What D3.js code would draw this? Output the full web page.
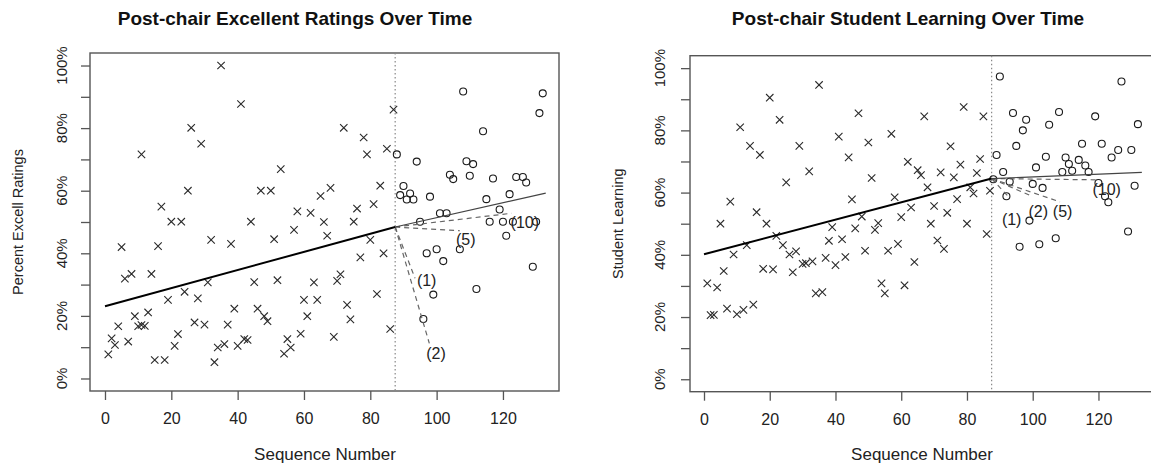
<!DOCTYPE html>
<html>
<head>
<meta charset="utf-8">
<script src="https://cdn.jsdelivr.net/npm/d3@7/dist/d3.min.js"></script>
<style>
  body { margin: 0; background: #fff; }
  svg { display: block; font-family: "Liberation Sans", Arial, Helvetica, sans-serif; }
</style>
</head>
<body>
<svg id="chart" width="1151" height="464"></svg>
<script>
// ---- data ----
// left panel: percent excellent ratings
var exSeqPre = [1,2,3,4,5,6,7,8,9,10,11,11,12,13,14,15,16,17,18,19,20,21,22,23,24,25,26,27,28,29,30,31,32,33,34,35,36,37,38,39,40,41,42,43,44,45,46,47,48,49,50,51,52,53,54,55,56,57,58,59,60,61,62,63,64,65,66,67,68,69,70,71,72,73,74,75,76,77,78,79,80,81,82,83,84,85,86,87];
var exPre = [7.7,12.8,10.7,16.7,42.0,31.9,11.8,33.4,19.9,16.7,71.6,17.1,16.8,21.1,33.4,5.9,42.3,54.9,5.9,25.1,50.1,10.4,14.2,50.1,27.7,60.0,80.1,17.9,25.6,75.0,17.2,30.7,44.3,5.2,9.9,100,11.0,17.2,43.0,22.3,10.4,87.7,12.6,12.3,50.1,30.8,22.3,60.0,19.9,18.3,60.0,44.5,31.4,66.9,7.9,12.6,9.9,47.5,53.4,14.3,25.1,19.9,52.9,30.7,25.1,58.3,50.0,45.6,60.9,13.3,31.2,33.3,80.1,23.5,18.9,50.1,54.3,38.7,77.0,71.6,44.3,55.7,27.0,61.6,40.0,73.4,15.8,85.9];
var exSeqPost = [88,89,90,91,92,93,94,95,96,97,98,99,100,101,102,103,104,105,107,108,109,110,111,112,114,115,116,117,119,120,121,122,123,124,126,127,129,130,131,132];
var exPost = [71.6,58.6,61.5,57.2,59.1,57.2,69.3,50.1,19.0,40.0,58.1,26.8,41.3,52.8,37.5,52.8,65.1,63.7,41.3,91.7,69.4,64.8,68.5,28.6,79.0,57.3,50.1,63.9,54.0,50.1,45.6,58.9,50.1,64.4,64.4,62.6,35.7,50.1,84.8,91.1];

// right panel: student learning
var slSeqPre = [1,2,3,4,5,6,7,8,9,10,11,12,13,14,15,16,17,18,19,20,21,22,23,24,25,26,27,28,29,30,31,32,33,34,35,36,37,38,39,40,41,42,43,44,45,46,47,48,49,50,51,52,53,54,55,56,57,58,59,60,61,62,63,64,65,66,67,68,69,70,71,72,73,74,75,76,77,78,79,80,81,82,83,84,85,86,87];
var slPre = [30.8,20.6,20.7,29.5,50.0,34.8,22.7,57.1,40.1,20.9,81.0,22.3,43.1,75.0,24.0,53.7,72.1,35.5,50.0,90.5,35.3,46.1,83.4,43.1,63.3,40.1,34.4,41.1,75.0,37.1,37.3,66.8,37.9,27.6,94.6,28.0,39.0,44.5,48.9,36.7,78.0,45.0,39.3,71.3,57.8,48.5,85.5,52.3,41.3,76.1,64.7,48.0,50.2,30.8,27.6,41.3,78.9,58.5,43.5,52.1,30.2,69.9,55.2,37.7,67.2,65.6,84.5,61.7,50.0,55.7,44.6,66.5,41.9,53.5,74.9,64.9,57.9,69.0,87.5,50.0,61.7,59.7,66.3,70.8,84.5,46.7,60.6];
var slSeqPost = [88,89,90,91,92,93,94,95,96,97,98,99,100,101,102,103,104,105,107,108,109,110,111,112,114,115,116,117,119,120,121,122,123,124,126,127,129,130,131,132];
var slPost = [64.3,72.1,97.3,66.6,58.8,63.5,85.6,75.0,42.6,80.0,83.4,51.0,62.8,68.1,43.4,61.5,71.5,81.8,45.3,85.9,66.6,71.3,69.2,67.0,70.5,75.7,68.7,66.6,84.5,63.1,75.7,58.8,56.9,71.3,73.7,95.7,47.5,73.7,62.2,82.0];

// chair change and fitted lines [x0, y0, x1, y1]
var changeSeq = 87.5;
var exPreFit = [0, 23.1, 87.5, 48.4];
var exPostFit = [87.5, 48.4, 132.9, 59.2];
var slPreFit = [0, 40.2, 87.5, 64.5];
var slPostFit = [87.5, 64.5, 133.2, 66.5];

// short-window fits after the change: label, end point, label point
var winLabels = ["(1)", "(2)", "(5)", "(10)"];
var exWinEnd = [[93.5, 32.0], [97.8, 11.2], [107.0, 47.2], [122.6, 52.8]];
var exWinText = [[97.0, 31.2], [99.8, 8.0], [108.8, 44.3], [126.6, 49.9]];
var slWinEnd = [[92.5, 58.8], [100.0, 58.7], [108.3, 57.0], [119.5, 64.1]];
var slWinText = [[93.6, 51.5], [101.7, 54.1], [109.1, 53.9], [122.5, 61.0]];

var xTicks = [0, 20, 40, 60, 80, 100, 120];
var yTicks = [0, 10, 20, 30, 40, 50, 60, 70, 80, 90, 100];

var svg = d3.select("#chart");
svg.append("rect").attr("width", 1151).attr("height", 464).attr("fill", "#fff");

function drawPanel(p)
{
    var g = svg.append("g");
    var x = d3.scaleLinear().domain(p.xDomain).range([p.left, p.right]);
    var y = d3.scaleLinear().domain([-4, 104]).range([p.bottom, p.top]);

    // title and axis labels
    g.append("text")
        .attr("x", p.titleX).attr("y", 25)
        .attr("text-anchor", "middle")
        .attr("font-size", 19).attr("font-weight", "bold").attr("fill", "#111")
        .text(p.title);
    g.append("text")
        .attr("x", p.xLabX).attr("y", 460)
        .attr("text-anchor", "middle")
        .attr("font-size", 17).attr("fill", "#222")
        .text("Sequence Number");
    g.append("text")
        .attr("transform", "translate(" + p.yLabX + "," + ((p.top + p.bottom) / 2) + ") rotate(-90)")
        .attr("text-anchor", "middle")
        .attr("font-size", 14.5).attr("fill", "#222")
        .text(p.yLabel);

    // axes (ticks only, the box gives the lines)
    var xa = g.append("g")
        .attr("transform", "translate(0," + p.bottom + ")")
        .call(d3.axisBottom(x).tickValues(xTicks).tickSize(9).tickPadding(13));
    var ya = g.append("g")
        .attr("transform", "translate(" + p.left + ",0)")
        .call(d3.axisLeft(y).tickValues(yTicks).tickSize(9).tickFormat(""));
    [xa, ya].forEach(function(a) {
        a.select(".domain").remove();
        a.selectAll("line").attr("stroke", "#555").attr("stroke-width", 1.3);
    });
    xa.selectAll("text")
        .attr("font-size", 16).attr("fill", "#222")
        .attr("font-family", "Liberation Sans, Arial, sans-serif");

    g.selectAll(".ylab").data(yTicks.filter(function(d) { return d % 20 == 0; }))
        .enter().append("text")
        .attr("transform", function(d) { return "translate(" + p.yTickX + "," + y(d) + ") rotate(-90)"; })
        .attr("text-anchor", "middle")
        .attr("font-size", 15).attr("fill", "#222")
        .text(function(d) { return d + "%"; });

    // plot box
    g.append("rect")
        .attr("x", p.left).attr("y", p.top)
        .attr("width", p.right - p.left).attr("height", p.bottom - p.top)
        .attr("fill", "none").attr("stroke", "#555").attr("stroke-width", 1.4);

    // chair change marker
    g.append("line")
        .attr("x1", x(changeSeq)).attr("x2", x(changeSeq))
        .attr("y1", p.top).attr("y2", p.bottom)
        .attr("stroke", "#888").attr("stroke-width", 1.2)
        .attr("stroke-dasharray", "1.5,2.5");

    // pre-chair points as crosses
    g.selectAll(".pre").data(p.seqPre).enter()
        .append("path")
        .attr("transform", function(d, i) { return "translate(" + x(d) + "," + y(p.pre[i]) + ")"; })
        .attr("d", "M-3.7,-3.7L3.7,3.7M-3.7,3.7L3.7,-3.7")
        .attr("stroke", "#2a2a2a").attr("stroke-width", 1.1).attr("fill", "none");

    // post-chair points as circles
    g.selectAll(".post").data(p.seqPost).enter()
        .append("circle")
        .attr("cx", function(d) { return x(d); })
        .attr("cy", function(d, i) { return y(p.post[i]); })
        .attr("r", 3.5)
        .attr("fill", "none").attr("stroke", "#1a1a1a").attr("stroke-width", 1.1);

    // short-window fits
    p.winEnd.forEach(function(e) {
        g.append("line")
            .attr("x1", x(p.postFit[0])).attr("y1", y(p.postFit[1]))
            .attr("x2", x(e[0])).attr("y2", y(e[1]))
            .attr("stroke", "#666").attr("stroke-width", 1.2)
            .attr("stroke-dasharray", "5,4");
    });
    g.selectAll(".win").data(winLabels).enter()
        .append("text")
        .attr("x", function(d, i) { return x(p.winText[i][0]); })
        .attr("y", function(d, i) { return y(p.winText[i][1]); })
        .attr("dy", "0.35em")
        .attr("text-anchor", "middle")
        .attr("font-size", 16).attr("fill", "#222")
        .text(function(d) { return d; });

    // trend lines
    g.append("line")
        .attr("x1", x(p.preFit[0])).attr("y1", y(p.preFit[1]))
        .attr("x2", x(p.preFit[2])).attr("y2", y(p.preFit[3]))
        .attr("stroke", "#000").attr("stroke-width", 2);
    g.append("line")
        .attr("x1", x(p.postFit[0])).attr("y1", y(p.postFit[1]))
        .attr("x2", x(p.postFit[2])).attr("y2", y(p.postFit[3]))
        .attr("stroke", "#444").attr("stroke-width", 1.2);
} // drawPanel()

drawPanel({
    title: "Post-chair Excellent Ratings Over Time", titleX: 295,
    yLabel: "Percent Excell Ratings", yLabX: 23, yTickX: 67, xLabX: 325,
    left: 90, right: 559, top: 53, bottom: 391, xDomain: [-4.52, 136.9],
    seqPre: exSeqPre, pre: exPre, seqPost: exSeqPost, post: exPost,
    preFit: exPreFit, postFit: exPostFit, winEnd: exWinEnd, winText: exWinText
});
drawPanel({
    title: "Post-chair Student Learning Over Time", titleX: 908,
    yLabel: "Student Learning", yLabX: 623, yTickX: 665, xLabX: 922,
    left: 690, right: 1155, top: 55.7, bottom: 391.7, xDomain: [-4.26, 137.2],
    seqPre: slSeqPre, pre: slPre, seqPost: slSeqPost, post: slPost,
    preFit: slPreFit, postFit: slPostFit, winEnd: slWinEnd, winText: slWinText
});
</script>
</body>
</html>
